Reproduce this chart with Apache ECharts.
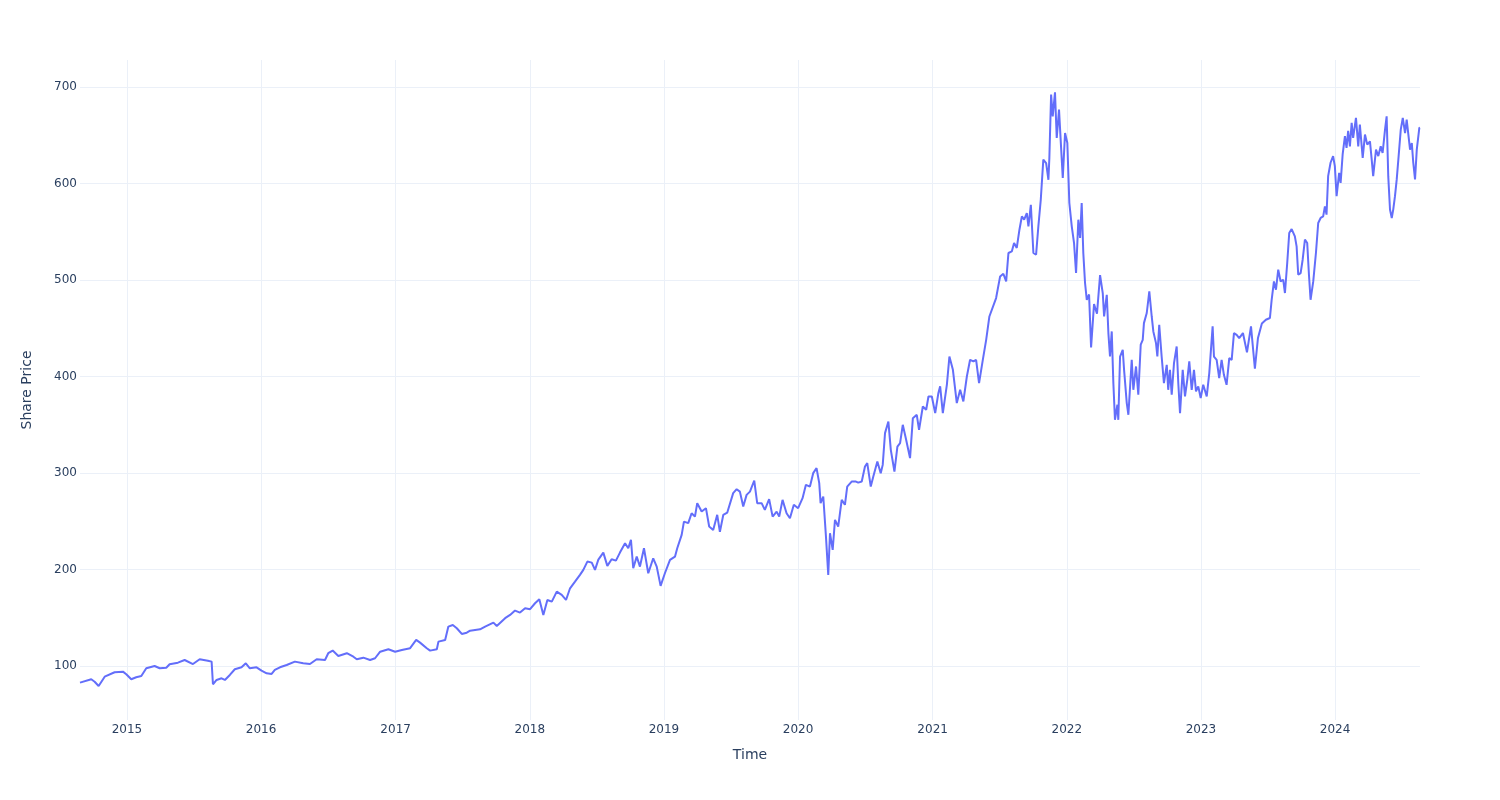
<!DOCTYPE html>
<html>
<head>
<meta charset="utf-8">
<script src="https://cdn.jsdelivr.net/npm/echarts@6/dist/echarts.min.js"></script>
<style>html,body{margin:0;padding:0;background:#fff}#c{width:1500px;height:800px}</style>
</head>
<body>
<div id="c"></div>
<script>
// Time in decimal years
const years = [
2014.650,2014.734,2014.759,2014.789,2014.834,2014.908,2014.970,2014.995,2015.032,2015.069,
2015.107,2015.144,2015.206,2015.244,2015.293,2015.318,2015.380,2015.430,2015.492,2015.542,
2015.603,2015.631,2015.641,2015.668,2015.705,2015.730,2015.767,2015.804,2015.854,2015.886,
2015.916,2015.966,2016.003,2016.041,2016.078,2016.102,2016.140,2016.190,2016.251,2016.313,
2016.363,2016.413,2016.475,2016.499,2016.532,2016.574,2016.637,2016.686,2016.711,2016.760,
2016.810,2016.847,2016.885,2016.946,2016.996,2017.046,2017.108,2017.153,2017.182,2017.232,
2017.257,2017.307,2017.319,2017.369,2017.393,2017.426,2017.456,2017.493,2017.530,2017.555,
2017.629,2017.667,2017.729,2017.754,2017.816,2017.853,2017.890,2017.927,2017.965,2018.002,
2018.039,2018.071,2018.101,2018.131,2018.164,2018.201,2018.238,2018.270,2018.300,2018.337,
2018.374,2018.399,2018.429,2018.462,2018.486,2018.511,2018.548,2018.578,2018.610,2018.642,
2018.672,2018.710,2018.734,2018.754,2018.771,2018.797,2018.821,2018.851,2018.883,2018.920,
2018.946,2018.975,2019.007,2019.045,2019.082,2019.099,2019.132,2019.149,2019.181,2019.206,
2019.231,2019.248,2019.281,2019.313,2019.337,2019.367,2019.397,2019.417,2019.442,2019.472,
2019.516,2019.542,2019.566,2019.591,2019.616,2019.641,2019.673,2019.695,2019.728,2019.752,
2019.784,2019.810,2019.840,2019.859,2019.884,2019.914,2019.939,2019.968,2020.000,2020.033,
2020.058,2020.088,2020.112,2020.137,2020.157,2020.167,2020.187,2020.207,2020.224,2020.237,
2020.257,2020.274,2020.298,2020.324,2020.348,2020.365,2020.398,2020.430,2020.447,2020.473,
2020.497,2020.514,2020.540,2020.559,2020.589,2020.614,2020.629,2020.646,2020.671,2020.689,
2020.716,2020.738,2020.758,2020.778,2020.803,2020.832,2020.853,2020.882,2020.899,2020.927,
2020.952,2020.969,2020.994,2021.019,2021.043,2021.056,2021.076,2021.106,2021.125,2021.151,
2021.180,2021.205,2021.229,2021.255,2021.279,2021.304,2021.324,2021.346,2021.374,2021.399,
2021.423,2021.473,2021.503,2021.527,2021.548,2021.565,2021.590,2021.607,2021.627,2021.647,
2021.665,2021.682,2021.702,2021.714,2021.732,2021.751,2021.771,2021.788,2021.806,2021.825,
2021.846,2021.863,2021.870,2021.883,2021.895,2021.912,2021.925,2021.942,2021.957,2021.970,
2021.987,2022.004,2022.019,2022.037,2022.054,2022.069,2022.086,2022.099,2022.111,2022.123,
2022.136,2022.149,2022.166,2022.181,2022.203,2022.225,2022.248,2022.268,2022.278,2022.298,
2022.310,2022.322,2022.335,2022.347,2022.359,2022.377,2022.384,2022.397,2022.417,2022.427,
2022.447,2022.459,2022.484,2022.496,2022.516,2022.533,2022.551,2022.566,2022.575,2022.596,
2022.615,2022.633,2022.645,2022.665,2022.675,2022.689,2022.707,2022.724,2022.745,2022.756,
2022.769,2022.782,2022.799,2022.819,2022.831,2022.844,2022.864,2022.881,2022.898,2022.913,
2022.931,2022.948,2022.963,2022.980,2022.998,2023.017,2023.043,2023.062,2023.087,2023.097,
2023.117,2023.136,2023.154,2023.171,2023.191,2023.211,2023.229,2023.246,2023.266,2023.285,
2023.313,2023.343,2023.373,2023.402,2023.425,2023.454,2023.484,2023.514,2023.527,2023.544,
2023.559,2023.576,2023.594,2023.613,2023.626,2023.643,2023.658,2023.676,2023.700,2023.713,
2023.725,2023.743,2023.758,2023.775,2023.792,2023.805,2023.817,2023.837,2023.857,2023.874,
2023.892,2023.911,2023.924,2023.936,2023.948,2023.966,2023.985,2023.998,2024.011,2024.030,
2024.041,2024.056,2024.073,2024.085,2024.097,2024.110,2024.123,2024.134,2024.155,2024.172,
2024.184,2024.205,2024.222,2024.239,2024.259,2024.272,2024.283,2024.304,2024.321,2024.339,
2024.353,2024.371,2024.383,2024.395,2024.408,2024.421,2024.432,2024.445,2024.458,2024.470,
2024.488,2024.503,2024.520,2024.532,2024.557,2024.570,2024.581,2024.594,2024.607,2024.626,
2024.631
];
// Share price
const prices = [
82.7,86.2,83.7,79.3,88.9,93.5,94.1,91.4,86.2,88.3,
89.6,97.6,100.0,97.6,98.2,101.8,103.4,106.2,102.0,107.0,
105.5,104.5,81.0,85.5,87.2,85.5,90.7,96.6,98.6,102.8,
97.6,98.6,95.1,92.4,91.7,95.9,98.6,101.0,104.5,102.8,
102.0,107.0,106.2,113.2,116.0,110.4,113.2,109.6,107.0,108.6,
106.2,108.0,114.8,117.3,114.8,116.6,118.4,127.0,124.2,118.4,
115.9,117.3,125.2,127.0,140.8,142.5,139.1,133.2,134.5,136.6,
138.0,140.8,144.9,141.5,149.5,152.9,157.4,155.3,159.8,158.8,
165.0,169.2,152.9,168.4,166.7,177.0,173.6,168.4,180.5,187.4,
194.4,199.6,208.2,207.1,199.6,210.2,217.5,203.7,210.6,209.2,
217.5,227.2,222.0,230.7,201.3,213.3,203.0,222.0,196.1,211.6,
203.0,183.0,196.1,209.9,213.3,222.0,235.8,249.6,248.0,258.3,
254.8,268.7,260.0,263.5,244.5,241.0,256.6,239.0,256.5,259.0,
279.1,283.2,280.7,265.2,277.3,280.7,292.2,268.7,268.7,261.8,
272.9,254.8,260.0,254.8,272.1,258.3,253.1,267.0,263.5,273.9,
287.7,285.9,299.8,305.0,289.5,268.7,275.6,234.1,194.4,237.6,
220.3,251.4,244.5,272.1,267.0,285.9,291.1,291.1,290.0,291.1,
306.7,310.2,285.9,296.3,311.9,299.8,308.4,341.3,353.3,324.0,
301.5,327.4,330.9,349.9,334.4,315.4,356.8,360.3,344.7,368.9,
365.5,379.3,379.3,362.0,383.0,389.8,362.0,391.4,420.7,406.9,
372.4,386.2,374.1,400.0,417.3,415.6,417.3,393.2,417.3,438.0,
462.2,481.3,503.7,506.5,498.5,528.0,529.6,538.3,533.2,552.1,
565.9,562.5,569.4,555.6,578.0,528.0,526.2,555.6,583.2,624.7,
621.2,603.9,626.4,692.1,669.6,694.5,647.2,676.6,638.5,605.7,
652.3,642.0,579.8,555.6,538.3,507.2,562.5,543.5,579.8,528.0,
496.9,479.5,485.0,430.0,475.0,465.0,505.0,486.5,462.2,484.7,
445.0,420.7,446.7,393.2,355.1,370.7,355.1,420.7,427.7,406.9,
372.4,360.3,417.3,386.2,410.4,381.1,432.9,438.0,455.3,465.8,
488.2,462.2,446.7,434.6,420.7,453.6,420.7,393.2,412.1,386.2,
406.9,381.1,413.9,431.1,393.2,362.0,406.9,379.3,396.6,415.6,
386.2,406.9,384.5,389.8,377.6,391.4,379.3,403.5,451.9,420.7,
417.3,398.3,417.3,401.7,391.4,419.0,417.3,445.0,443.2,439.8,
445.0,425.0,452.0,408.0,440.0,455.0,458.8,460.6,479.5,498.5,
489.9,510.7,498.5,500.3,486.5,517.6,548.7,552.8,545.2,534.8,
505.5,507.2,521.0,541.8,538.3,505.5,479.5,498.5,528.0,559.1,
564.3,565.9,576.3,567.7,607.6,621.5,628.4,618.0,586.9,611.1,
600.7,630.1,649.0,637.0,654.5,638.5,662.8,647.2,668.0,638.5,
661.0,626.5,650.7,640.3,643.7,624.7,607.6,635.1,628.4,638.5,
631.6,655.8,669.6,607.6,573.0,564.3,573.0,586.9,604.2,624.7,
655.8,668.0,652.3,666.2,635.1,642.0,621.5,604.2,635.1,657.6,
658.0
];
const yTicks = [100, 200, 300, 400, 500, 600, 700];
const xTitle = 'Time';
const yTitle = 'Share Price';

function toTime(y) {
  const yr = Math.floor(y);
  const a = Date.UTC(yr, 0, 1), b = Date.UTC(yr + 1, 0, 1);
  return a + (y - yr) * (b - a);
}
const seriesData = years.map((y, i) => [toTime(y), prices[i]]);
const xMin = toTime(years[0]), xMax = toTime(years[years.length - 1]);
const grid = '#EBF0F8';
const txt = '#2a3f5f';
const font = 'DejaVu Sans';

const chart = echarts.init(document.getElementById('c'), null, {renderer: 'canvas'});
chart.setOption({
  animation: false,
  backgroundColor: '#fff',
  grid: {left: 80, right: 80, top: 60, bottom: 80, containLabel: false},
  xAxis: {
    type: 'time',
    min: xMin, max: xMax,
    minInterval: 365 * 86400000,
    splitNumber: 10,
    axisLine: {show: false}, axisTick: {show: false},
    axisLabel: {
      color: txt, fontFamily: font, fontSize: 12, margin: 4,
      showMinLabel: false, showMaxLabel: false,
      formatter: '{yyyy}', hideOverlap: false
    },
    splitLine: {show: true, showMinLine: false, showMaxLine: false, lineStyle: {color: grid, width: 1}},
    name: xTitle, nameLocation: 'middle', nameGap: 28,
    nameTextStyle: {color: txt, fontFamily: font, fontSize: 14}
  },
  yAxis: {
    type: 'value',
    min: 44, max: 728,
    axisLine: {show: false}, axisTick: {show: false},
    axisLabel: {
      color: txt, fontFamily: font, fontSize: 12, margin: 3,
      formatter: v => yTicks.includes(v) ? String(v) : ''
    },
    splitLine: {show: true, showMinLine: false, showMaxLine: false, lineStyle: {color: grid, width: 1}},
    name: yTitle, nameLocation: 'middle', nameGap: 46,
    nameTextStyle: {color: txt, fontFamily: font, fontSize: 14}
  },
  series: [{
    type: 'line',
    data: seriesData,
    showSymbol: false,
    symbol: 'none',
    lineStyle: {color: '#636efa', width: 2},
    itemStyle: {color: '#636efa'}
  }]
});
</script>
</body>
</html>
